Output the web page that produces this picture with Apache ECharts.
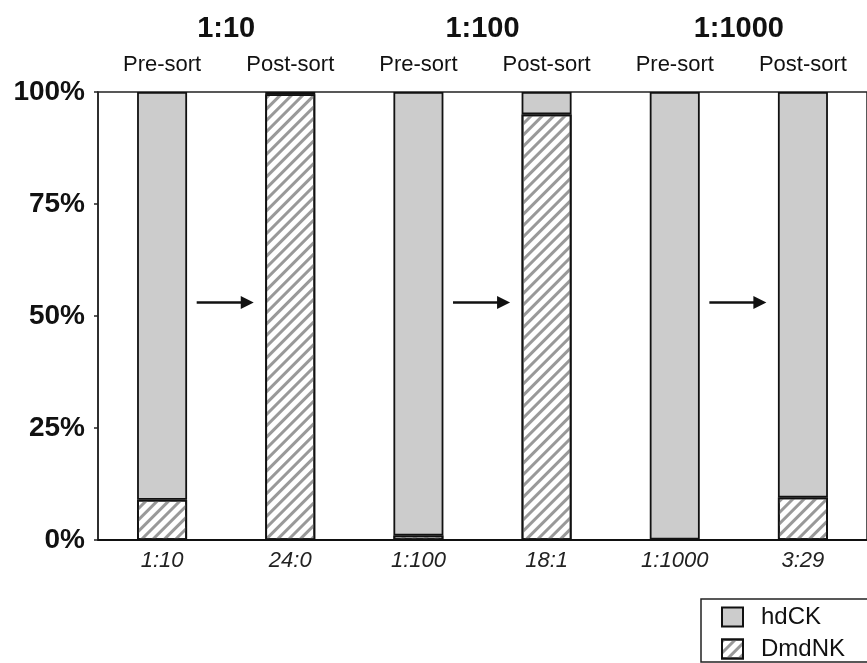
<!DOCTYPE html>
<html>
<head>
<meta charset="utf-8">
<script src="https://cdn.jsdelivr.net/npm/echarts@6/dist/echarts.min.js"></script>
<style>
  html, body { margin: 0; padding: 0; background: #fff; }
  #main { width: 867px; height: 663px; }
</style>
</head>
<body>
<div id="main"></div>
<script>
// ratios under each bar
var ratios = ['1:10', '24:0', '1:100', '18:1', '1:1000', '3:29'];
// top labels
var phases = ['Pre-sort', 'Post-sort', 'Pre-sort', 'Post-sort', 'Pre-sort', 'Post-sort'];
var dilutions = ['1:10', '1:100', '1:1000'];
// percent of cells per bar
var hdCK = [91, 0.5, 99, 5, 99.9, 90.5];
var dmdNK = [9, 99.5, 1, 95, 0.1, 9.5];
var yTicks = [0, 25, 50, 75, 100];
// arrows go from each pre-sort bar to its post-sort bar, at this height (%)
var arrowFrom = [0, 2, 4];
var arrowLevel = 53;

var font = 'Liberation Sans, Arial, sans-serif';
var chart = echarts.init(document.getElementById('main'));

var options = {
  animation: false,
  backgroundColor: '#fff',
  grid: {
    left: 98,
    right: -4,
    top: 92,
    bottom: 123,
    show: true,
    borderColor: '#222',
    borderWidth: 1.5
  },
  legend: {
    data: [
      { name: 'hdCK', icon: 'rect' },
      { name: 'DmdNK', icon: 'rect' }
    ],
    orient: 'vertical',
    left: 701,
    top: 599,
    itemWidth: 21,
    itemHeight: 19,
    itemGap: 8,
    padding: [6, 70, 1, 20],
    borderColor: '#222',
    borderWidth: 1.5,
    borderRadius: 0,
    selectedMode: false,
    textStyle: {
      color: '#111',
      fontSize: 24,
      fontFamily: font,
      padding: [0, 0, 0, 13]
    }
  },
  xAxis: [
    {
      type: 'category',
      data: ratios,
      position: 'bottom',
      axisLine: { show: true, lineStyle: { color: '#111', width: 2 } },
      axisTick: { show: false },
      axisLabel: {
        color: '#222',
        fontSize: 22,
        fontStyle: 'italic',
        fontFamily: font,
        margin: 10
      }
    },
    {
      type: 'category',
      data: phases,
      position: 'top',
      axisLine: { show: false },
      axisTick: { show: false },
      axisLabel: {
        color: '#111',
        fontSize: 22,
        fontFamily: font,
        margin: 16
      }
    },
    {
      type: 'category',
      data: dilutions,
      position: 'top',
      offset: 35,
      axisLine: { show: false },
      axisTick: { show: false },
      axisLabel: {
        color: '#111',
        fontSize: 29,
        fontWeight: 'bold',
        fontFamily: font,
        margin: 14
      }
    }
  ],
  yAxis: {
    type: 'value',
    min: yTicks[0],
    max: yTicks[yTicks.length - 1],
    interval: 25,
    axisLine: { show: true, lineStyle: { color: '#222', width: 1.5 } },
    axisTick: { show: true, length: 4, lineStyle: { color: '#222', width: 1.5 } },
    splitLine: { show: false },
    axisLabel: {
      formatter: '{value}%',
      color: '#111',
      fontSize: 28,
      fontWeight: 'bold',
      fontFamily: font,
      margin: 13
    }
  },
  series: [
    {
      name: 'DmdNK',
      type: 'bar',
      stack: 'cells',
      barWidth: 50,
      data: dmdNK,
      itemStyle: {
        color: '#fff',
        borderColor: '#111',
        borderWidth: 1.8,
        decal: {
          symbol: 'rect',
          symbolSize: 1,
          dashArrayX: [1, 0],
          dashArrayY: [3, 5],
          rotation: -Math.PI / 4,
          color: '#999'
        }
      }
    },
    {
      name: 'hdCK',
      type: 'bar',
      stack: 'cells',
      barWidth: 50,
      data: hdCK,
      itemStyle: {
        color: '#cccccc',
        borderColor: '#111',
        borderWidth: 1.8
      }
    }
  ]
};

chart.setOption(options);

// arrows between pre-sort and post-sort bars
var step = chart.convertToPixel({ xAxisIndex: 0 }, 1) - chart.convertToPixel({ xAxisIndex: 0 }, 0);
var ay = chart.convertToPixel({ yAxisIndex: 0 }, arrowLevel);
var arrows = [];
arrowFrom.forEach(function (i) {
  var cx = chart.convertToPixel({ xAxisIndex: 0 }, i);
  var x1 = cx + 0.27 * step;
  var x2 = cx + 0.715 * step;
  arrows.push({
    type: 'line',
    shape: { x1: x1, y1: ay, x2: x2 - 8, y2: ay },
    style: { stroke: '#111', lineWidth: 2.5 },
    silent: true
  });
  arrows.push({
    type: 'polygon',
    shape: { points: [[x2, ay], [x2 - 13, ay - 6.5], [x2 - 13, ay + 6.5]] },
    style: { fill: '#111' },
    silent: true
  });
});
chart.setOption({ graphic: arrows });
</script>
</body>
</html>
